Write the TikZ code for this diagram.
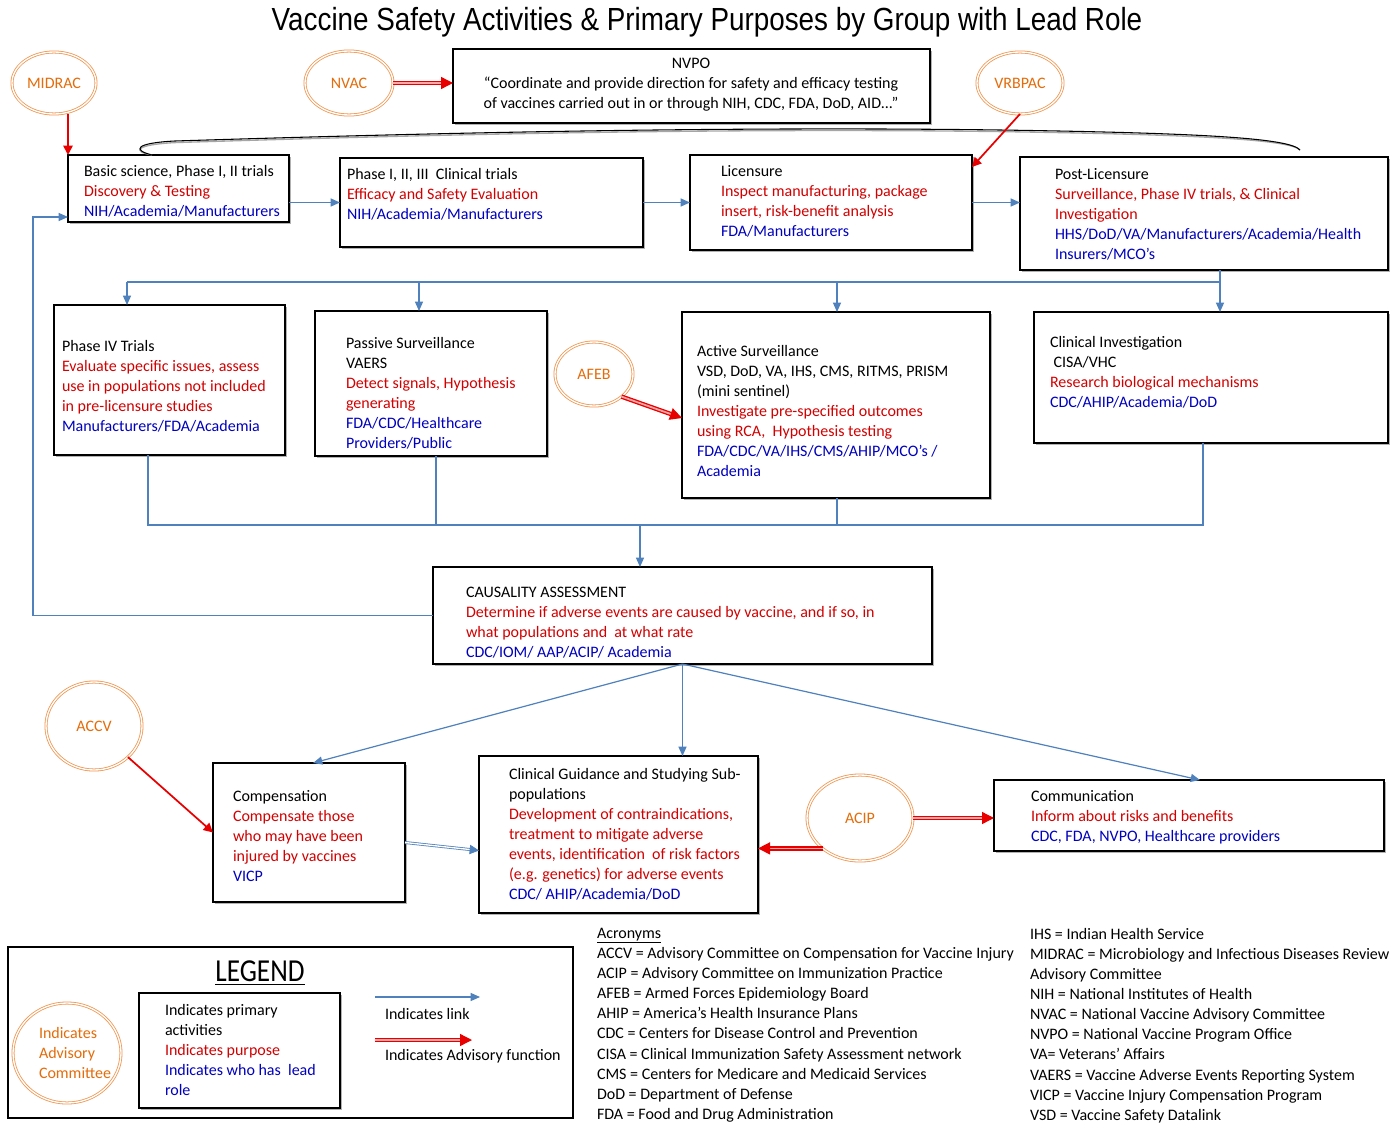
\documentclass[tikz,border=0pt]{standalone}
\usepackage{fontspec}
\setmainfont{Carlito}
\newfontfamily\condfont{Carlito}[FakeStretch=0.85]
\newfontfamily\titlefont{Liberation Sans}[FakeStretch=0.87]
\usetikzlibrary{arrows.meta,shapes.geometric,shadows,calc}
\definecolor{lblue}{RGB}{79,129,189}
\definecolor{tred}{RGB}{210,0,0}
\definecolor{tblu}{RGB}{0,0,190}
\definecolor{ocirc}{RGB}{240,150,80}
\definecolor{otext}{RGB}{228,108,10}
\definecolor{advred}{RGB}{232,0,0}
\newcommand\rtx[1]{\textcolor{tred}{#1}}
\newcommand\btx[1]{\textcolor{tblu}{#1}}
\newcommand\bx[5]{\node[box, minimum width={(#4-#2)*0.75pt}, minimum height={(#5-#3)*0.75pt}] (#1) at ({(#2+#4)/2},{(#3+#5)/2}) {};}
\newcommand\ac[6]{\node[adv, minimum width={#4*0.75pt}, minimum height={#5*0.75pt}] (#1) at (#2,#3) {#6};}
\begin{document}
\begin{tikzpicture}[x=0.75pt,y=-0.75pt,
  box/.style={rectangle, draw=black, line width=0.9pt, fill=white, inner sep=0pt, outer sep=0pt,
    drop shadow={shadow xshift=1.5pt, shadow yshift=-1.5pt, opacity=0.3, fill=black}},
  plainbox/.style={rectangle, draw=black, line width=0.9pt, inner sep=0pt, outer sep=0pt},
  txt/.style={anchor=north west, align=left, inner sep=0pt, outer sep=0pt, font=\fontsize{12}{15}\selectfont},
  adv/.style={ellipse, draw=ocirc, double=white, double distance=1pt, line width=0.6pt, text=otext, inner sep=0pt, outer sep=0pt, font=\fontsize{12}{14}\selectfont},
  link/.style={draw=lblue, line width=0.9pt, -{Triangle[length=7pt,width=6pt]}},
  lline/.style={draw=lblue, line width=0.9pt},
  dlink/.style={draw=lblue, line width=0.6pt, double=white, double distance=1pt, -{Triangle[length=7pt,width=7pt]}},
  advarr/.style={draw=advred, line width=1pt, double=red!35, double distance=1.3pt, -{Triangle[length=9pt,width=9pt]}},
  advthin/.style={draw=advred, line width=1.3pt, -{Triangle[length=7pt,width=7pt]}}
]
\useasboundingbox[fill=white] (0,0) rectangle (1400,1124);

% title
\node[font=\titlefont\fontsize{24}{28}\selectfont] (title) at (707,22) {Vaccine Safety Activities \& Primary Purposes by Group with Lead Role};

% boxes
\bx{nvpo}{453}{49}{930}{123}
\bx{b1}{68}{155}{289}{222}
\bx{b2}{340}{158}{643}{247}
\bx{b3}{690}{155}{972}{250}
\bx{b4}{1020}{157}{1388}{270}
\bx{p4}{54}{305}{285}{455}
\bx{ps}{315}{311}{547}{456}
\bx{as}{682}{312}{990}{498}
\bx{ci}{1034}{312}{1388}{443}
\bx{ca}{433}{567}{932}{664}
\bx{comp}{213}{763}{405}{902}
\bx{cg}{479}{756}{758}{913}
\bx{cm}{994}{780}{1384}{851}

% texts
\node[txt, anchor=center, align=center] (nvpot) at (691,85) {NVPO\\“Coordinate and provide direction for safety and efficacy testing\\of vaccines carried out in or through NIH, CDC, FDA, DoD, AID...”};
\node[txt] (b1t) at (84,165) {Basic science, Phase I, II trials\\\rtx{Discovery \& Testing}\\\btx{NIH/Academia/Manufacturers}};
\node[txt] (b2t) at (347,168) {Phase I, II, III\ \ Clinical trials\\\rtx{Efficacy and Safety Evaluation}\\\btx{NIH/Academia/Manufacturers}};
\node[txt] (b3t) at (721,165) {Licensure\\\rtx{Inspect manufacturing, package}\\\rtx{insert, risk-benefit analysis}\\\btx{FDA/Manufacturers}};
\node[txt] (b4t) at (1055,168) {Post-Licensure\\\rtx{Surveillance, Phase IV trials, \& Clinical}\\\rtx{Investigation}\\\btx{HHS/DoD/VA/Manufacturers/Academia/Health}\\\btx{Insurers/MCO’s}};
\node[txt] (p4t) at (62,340) {Phase IV Trials\\\rtx{Evaluate specific issues, assess}\\\rtx{use in populations not included}\\\rtx{in pre-licensure studies}\\\btx{Manufacturers/FDA/Academia}};
\node[txt] (pst) at (346,337) {Passive Surveillance\\VAERS\\\rtx{Detect signals, Hypothesis}\\\rtx{generating}\\\btx{FDA/CDC/Healthcare}\\\btx{Providers/Public}};
\node[txt] (ast) at (697,345) {Active Surveillance\\VSD, DoD, VA, IHS, CMS, RITMS, PRISM\\(mini sentinel)\\\rtx{Investigate pre-specified outcomes}\\\rtx{using RCA,\ \ Hypothesis testing}\\\btx{FDA/CDC/VA/IHS/CMS/AHIP/MCO’s /}\\\btx{Academia}};
\node[txt] (cit) at (1050,336) {Clinical Investigation\\\ CISA/VHC\\\rtx{Research biological mechanisms}\\\btx{CDC/AHIP/Academia/DoD}};
\node[txt] (cat) at (466,587) {CAUSALITY ASSESSMENT\\\rtx{Determine if adverse events are caused by vaccine, and if so, in}\\\rtx{what populations and\ \ at what rate}\\\btx{CDC/IOM/ AAP/ACIP/ Academia}};
\node[txt] (compt) at (233,790) {Compensation\\\rtx{Compensate those}\\\rtx{who may have been}\\\rtx{injured by vaccines}\\\btx{VICP}};
\node[txt] (cgt) at (509,768) {Clinical Guidance and Studying Sub-\\populations\\\rtx{Development of contraindications,}\\\rtx{treatment to mitigate adverse}\\\rtx{events, identification\ \ of risk factors}\\\rtx{(e.g. genetics) for adverse events}\\\btx{CDC/ AHIP/Academia/DoD}};
\node[txt] (cmt) at (1031,790) {Communication\\\rtx{Inform about risks and benefits}\\\btx{CDC, FDA, NVPO, Healthcare providers}};

% advisory committees
\ac{midrac}{54}{83}{84}{62}{MIDRAC}
\ac{nvac}{349}{83}{88}{64}{NVAC}
\ac{vrbpac}{1020}{83}{86}{62}{VRBPAC}
\ac{afeb}{594}{374}{78}{64}{AFEB}
\ac{accv}{94}{726}{96}{88}{ACCV}
\ac{acip}{860}{818}{106}{86}{ACIP}

% curved bracket
\coordinate (cs) at ($(b1.north west)+(84,0)$);
\coordinate (ce) at ($(b4.north west)+(280,-7)$);
\draw[black!35, line width=1pt, yshift=-1.2pt] (cs) .. controls (132,150) and (135,143) .. (175,141) .. controls (400,134) and (700,126) .. (1000,130) .. controls (1200,133) and (1290,138) .. (ce);
\draw[black, line width=0.8pt] (cs) .. controls (132,150) and (135,143) .. (175,141) .. controls (400,134) and (700,126) .. (1000,130) .. controls (1200,133) and (1290,138) .. (ce);

% main flow links
\draw[link] (b1.east |- b2.east) -- (b2.west);
\draw[link] (b2.east) -- (b3.west |- b2.east);
\draw[link] (b3.east |- b2.east) -- (b4.west |- b2.east);

% distribution
\coordinate (d1) at (127,282);
\coordinate (d2) at (419,282);
\coordinate (d3) at (837,282);
\coordinate (d4) at (1220,282);
\draw[lline] (d1) -- (d4);
\draw[link] (b4.south -| d4) -- (ci.north -| d4);
\draw[link] (d1) -- (p4.north -| d1);
\draw[link] (d2) -- (ps.north -| d2);
\draw[link] (d3) -- (as.north -| d3);

% collection
\coordinate (c1) at (148,525);
\coordinate (c2) at (640,525);
\coordinate (c3) at (436,525);
\coordinate (c4) at (1203,525);
\draw[lline] (p4.south -| c1) -- (c1) -- (c4) -- (ci.south -| c4);
\draw[lline] (ps.south -| c3) -- (c3);
\draw[lline] (as.south -| d3) -- (d3 |- c1);
\draw[link] (c2) -- (ca.north -| c2);

% feedback
\coordinate (fb) at (33,217);
\draw[link] (ca.west) -| (fb) -- (b1.west |- fb);

% causality outputs
\draw[link] (ca.south) -- ($(comp.north)+(4,0)$);
\draw[link] (ca.south) -- (ca.south |- cg.north);
\draw[link] (ca.south) -- ($(cm.north)+(11,0)$);
\draw[dlink] ($(comp.east)+(0,10)$) -- ($(cg.west)+(0,16)$);

% advisory arrows
\draw[advthin] (midrac.south -| b1.west) -- (b1.north west);
\draw[advarr] (nvac.east) -- (nvpo.west |- nvac.east);
\draw[advthin] (vrbpac.south) -- ($(b3.north east)+(0,12)$);
\draw[advarr] (afeb.south east) -- ($(as.west)+(0,13)$);
\draw[advthin] (accv.south east) -- (comp.west);
\draw[advarr] (acip.south west) -- (acip.south west -| cg.east);
\draw[advarr] (acip.east) -- (acip.east -| cm.west);

% legend
\node[plainbox, minimum width={565*0.75pt}, minimum height={171*0.75pt}] (leg) at (290.5,1032.5) {};
\node[font=\condfont\fontsize{24}{28}\selectfont] (legtitle) at (260,973) {\underline{LEGEND}};
\bx{legbox}{139}{993}{340}{1108}
\node[txt] (legt) at (165,1004) {Indicates primary\\activities\\\rtx{Indicates purpose}\\\btx{Indicates who has\ \ lead}\\\btx{role}};
\node[adv, minimum width={108*0.75pt}, minimum height={100*0.75pt}] (legcirc) at (67,1053) {};
\node[txt, anchor=west, text=otext] (legct) at (39,1053) {Indicates\\Advisory\\Committee};
\coordinate (la1) at (375,997);
\coordinate (la2) at (480,997);
\coordinate (lb1) at (375,1040);
\coordinate (lb2) at (472,1040);
\draw[link] (la1) -- (la2);
\draw[advarr] (lb1) -- (lb2);
\node[txt] (llink) at (385,1008) {Indicates link};
\node[txt] (ladv) at (385,1049) {Indicates Advisory function};

% acronyms
\node[txt, font=\fontsize{12}{15.1}\selectfont] (acrl) at (597,928) {\underline{Acronyms}\\ACCV = Advisory Committee on Compensation for Vaccine Injury\\ACIP = Advisory Committee on Immunization Practice\\AFEB = Armed Forces Epidemiology Board\\AHIP = America’s Health Insurance Plans\\CDC = Centers for Disease Control and Prevention\\CISA = Clinical Immunization Safety Assessment network\\CMS = Centers for Medicare and Medicaid Services\\DoD = Department of Defense\\FDA = Food and Drug Administration};
\node[txt, font=\fontsize{12}{15.1}\selectfont] (acrr) at (1030,928) {IHS = Indian Health Service\\MIDRAC = Microbiology and Infectious Diseases Review\\Advisory Committee\\NIH = National Institutes of Health\\NVAC = National Vaccine Advisory Committee\\NVPO = National Vaccine Program Office\\VA= Veterans’ Affairs\\VAERS = Vaccine Adverse Events Reporting System\\VICP = Vaccine Injury Compensation Program\\VSD = Vaccine Safety Datalink};
\end{tikzpicture}
\end{document}
